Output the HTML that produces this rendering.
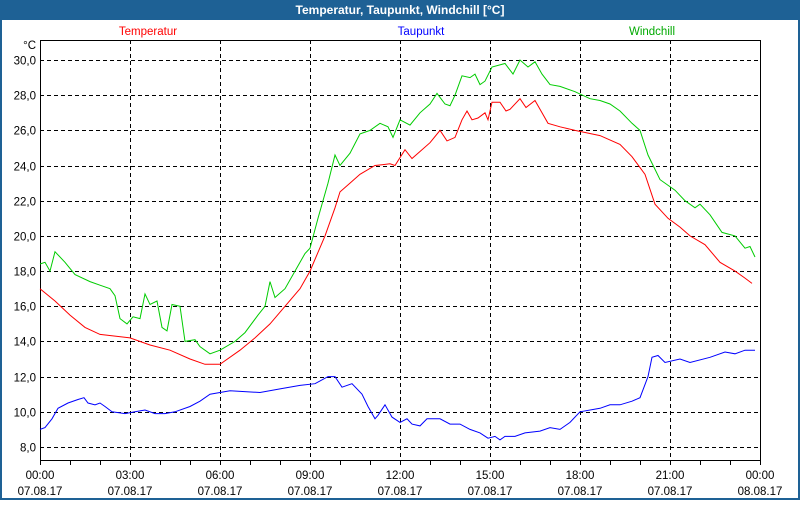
<!DOCTYPE html>
<html><head><meta charset="utf-8"><style>
body{margin:0;width:800px;height:500px;overflow:hidden;background:#fff;font-family:"Liberation Sans",sans-serif;}
</style></head><body>
<svg width="800" height="500" xmlns="http://www.w3.org/2000/svg" font-family="Liberation Sans, sans-serif" font-size="11.5">
<rect x="0" y="0" width="800" height="500" fill="#1e6195"/>
<rect x="2" y="20" width="796" height="478" fill="#fff"/>
<text x="400" y="14" fill="#fff" font-weight="bold" font-size="12" text-anchor="middle">Temperatur, Taupunkt, Windchill [°C]</text>
<text x="148" y="35" fill="#f00" text-anchor="middle">Temperatur</text>
<text x="421" y="35" fill="#00f" text-anchor="middle">Taupunkt</text>
<text x="652" y="35" fill="#0a0" text-anchor="middle">Windchill</text>
<text x="36" y="49" text-anchor="end">°C</text>
<g id="grid" stroke="#000" stroke-dasharray="4,3" stroke-width="1"></g>
<g id="ylab" text-anchor="end"></g>
<g id="xlab" text-anchor="middle"></g>
<g id="ticks" stroke="#000"></g>
<rect x="40.5" y="40.5" width="720" height="420" fill="none" stroke="#000"/>
<g id="series" fill="none" stroke-width="1"></g>
</svg>
<script>
var ns="http://www.w3.org/2000/svg";
function el(p,t,a,txt){var e=document.createElementNS(ns,t);for(var k in a)e.setAttribute(k,a[k]);if(txt)e.textContent=txt;document.getElementById(p).appendChild(e);}
function Y(v){return 60+(30-v)*17.59;}
for(var v=8;v<=30;v+=2){var y=Math.round(Y(v))+0.5;el("grid","line",{x1:40,x2:760,y1:y,y2:y});el("ylab","text",{x:36,y:y+4},v.toFixed(1).replace(".",","));}
for(var i=1;i<8;i++){var x=40+i*90+0.5;el("grid","line",{x1:x,x2:x,y1:40,y2:460});}
for(var i=0;i<=24;i++){var x=40+i*30+0.5;el("ticks","line",{x1:x,x2:x,y1:460,y2:465});}
var hrs=["00:00","03:00","06:00","09:00","12:00","15:00","18:00","21:00","00:00"];
for(var i=0;i<9;i++){var x=40+i*90;el("xlab","text",{x:x,y:479},hrs[i]);el("xlab","text",{x:x,y:495},i==8?"08.08.17":"07.08.17");}
var red=[40,17.0,55,16.3,70,15.5,85,14.8,100,14.4,130,14.2,150,13.8,170,13.5,190,13.0,205,12.7,220,12.7,240,13.5,255,14.2,270,15,285,16,300,17,310,18,325,20,335,21.6,340,22.5,350,23,360,23.5,375,24,390,24.1,395,24,405,24.9,412,24.4,420,24.8,430,25.3,440,26.0,447,25.4,455,25.6,462,26.6,467,27.1,472,26.6,478,26.7,485,27.0,488,26.6,492,27.6,500,27.6,506,27.1,510,27.2,520,27.8,526,27.3,535,27.7,540,27.2,548,26.4,560,26.2,575,26,600,25.7,620,25.2,632,24.5,645,23.5,655,21.8,668,21,680,20.5,690,20,705,19.5,720,18.5,735,18,745,17.6,752,17.3];
var green=[40,18.4,45,18.5,50,18.0,55,19.1,65,18.5,75,17.8,90,17.4,100,17.2,110,17.0,115,16.6,120,15.3,127,15.0,133,15.4,140,15.3,145,16.7,150,16.1,157,16.3,162,14.8,167,14.6,172,16.1,180,16.0,185,14.0,195,14.1,200,13.7,210,13.3,220,13.5,235,14.0,245,14.5,258,15.5,265,16.0,270,17.4,275,16.5,285,17.0,295,18.0,305,19,310,19.3,318,21.0,328,23,335,24.6,340,24.0,350,24.7,360,25.8,370,26,380,26.4,388,26.2,393,25.6,400,26.6,410,26.3,420,27.0,430,27.5,437,28.1,445,27.5,450,27.4,455,28,462,29.1,470,29,475,29.2,480,28.6,485,28.8,492,29.6,505,29.8,513,29.2,520,30.0,528,29.6,535,29.9,542,29.2,550,28.6,560,28.5,575,28.2,590,27.8,600,27.7,610,27.5,620,27.1,632,26.4,640,26.0,648,24.6,660,23.2,675,22.6,685,22,695,21.6,700,21.8,710,21.2,722,20.2,735,20,745,19.3,750,19.4,755,18.8];
var blue=[40,9.0,45,9.1,52,9.6,58,10.2,68,10.5,78,10.7,84,10.8,88,10.5,95,10.4,100,10.5,105,10.3,112,10.0,125,9.9,135,10.0,145,10.1,155,9.9,165,9.9,175,10.0,190,10.3,200,10.6,210,11.0,230,11.2,260,11.1,280,11.3,300,11.5,315,11.6,328,12.0,335,12.0,342,11.4,352,11.6,362,11.0,368,10.3,375,9.6,378,9.8,385,10.4,392,9.7,400,9.4,407,9.6,412,9.3,420,9.2,427,9.6,440,9.6,450,9.3,460,9.3,470,9.0,480,8.8,488,8.5,495,8.6,500,8.4,505,8.6,515,8.6,525,8.8,540,8.9,550,9.1,560,9.0,570,9.4,580,10.0,600,10.2,610,10.4,620,10.4,632,10.6,640,10.8,648,12.0,652,13.1,658,13.2,665,12.8,680,13.0,690,12.8,710,13.1,725,13.4,735,13.3,745,13.5,755,13.5];
function pl(d,c){var p=[];for(var i=0;i<d.length;i+=2)p.push(d[i]+","+Y(d[i+1]).toFixed(1));el("series","polyline",{points:p.join(" "),stroke:c});}
pl(green,"#0c0");pl(red,"#f00");pl(blue,"#00f");
</script>
</body></html>
